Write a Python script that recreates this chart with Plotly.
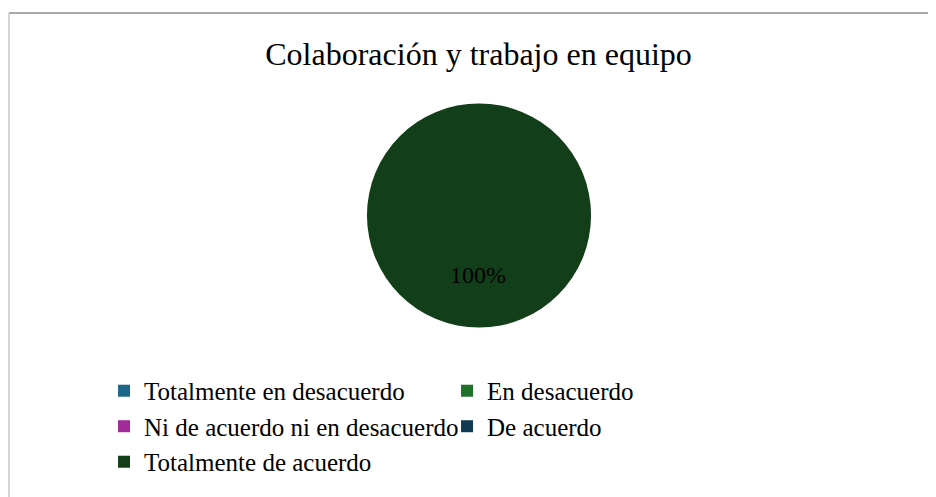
import plotly.graph_objects as go

# Survey answers for "Colaboración y trabajo en equipo"
categories = [
    "Totalmente en desacuerdo",
    "En desacuerdo",
    "Ni de acuerdo ni en desacuerdo",
    "De acuerdo",
    "Totalmente de acuerdo",
]
values = [0, 0, 0, 0, 100]
colors = ["#1c6688", "#1f7028", "#a02c98", "#0f3a52", "#123f1a"]

FONT = "Liberation Serif, Times New Roman, serif"

fig = go.Figure()

fig.add_trace(go.Pie(
    labels=categories,
    values=values,
    marker=dict(colors=colors, line=dict(width=0)),
    sort=False,
    direction="clockwise",
    textinfo="none",
    hoverinfo="label+percent",
    showlegend=True,
    domain=dict(x=[0.3835, 0.6229], y=[0.3561, 0.8089]),
))

# percent label, placed like the spreadsheet label (below the centre)
total = sum(values)
for cat, v in zip(categories, values):
    if v > 0:
        fig.add_annotation(
            x=0.502, y=0.4628, xref="paper", yref="paper",
            text=f"{v / total * 100:.0f}%", showarrow=False,
            font=dict(family=FONT, size=24, color="#000000"),
        )

# chart-area border (top and left edges visible)
fig.add_shape(type="line", xref="paper", yref="paper",
              x0=0.001, x1=1.0, y0=0.9899, y1=0.9899,
              line=dict(color="#8c8c8c", width=1.5))
fig.add_shape(type="line", xref="paper", yref="paper",
              x0=0.001, x1=0.001, y0=0.9899, y1=0.0,
              line=dict(color="#c8c8c8", width=1.5))

fig.update_layout(
    width=936,
    height=497,
    margin=dict(l=0, r=0, t=0, b=0),
    paper_bgcolor="white",
    plot_bgcolor="white",
    title=dict(
        text="Colaboración y trabajo en equipo",
        x=0.5027, xanchor="center", y=0.908, yanchor="middle",
        font=dict(family=FONT, size=32, color="#000000"),
    ),
    legend=dict(
        orientation="h",
        x=0.1026, xanchor="left",
        y=0.2757, yanchor="top",
        entrywidth=298,
        itemwidth=30,
        traceorder="normal",
        font=dict(family=FONT, size=25, color="#000000"),
        bgcolor="rgba(0,0,0,0)",
    ),
    font=dict(family=FONT),
)

fig.write_html("out.html")
